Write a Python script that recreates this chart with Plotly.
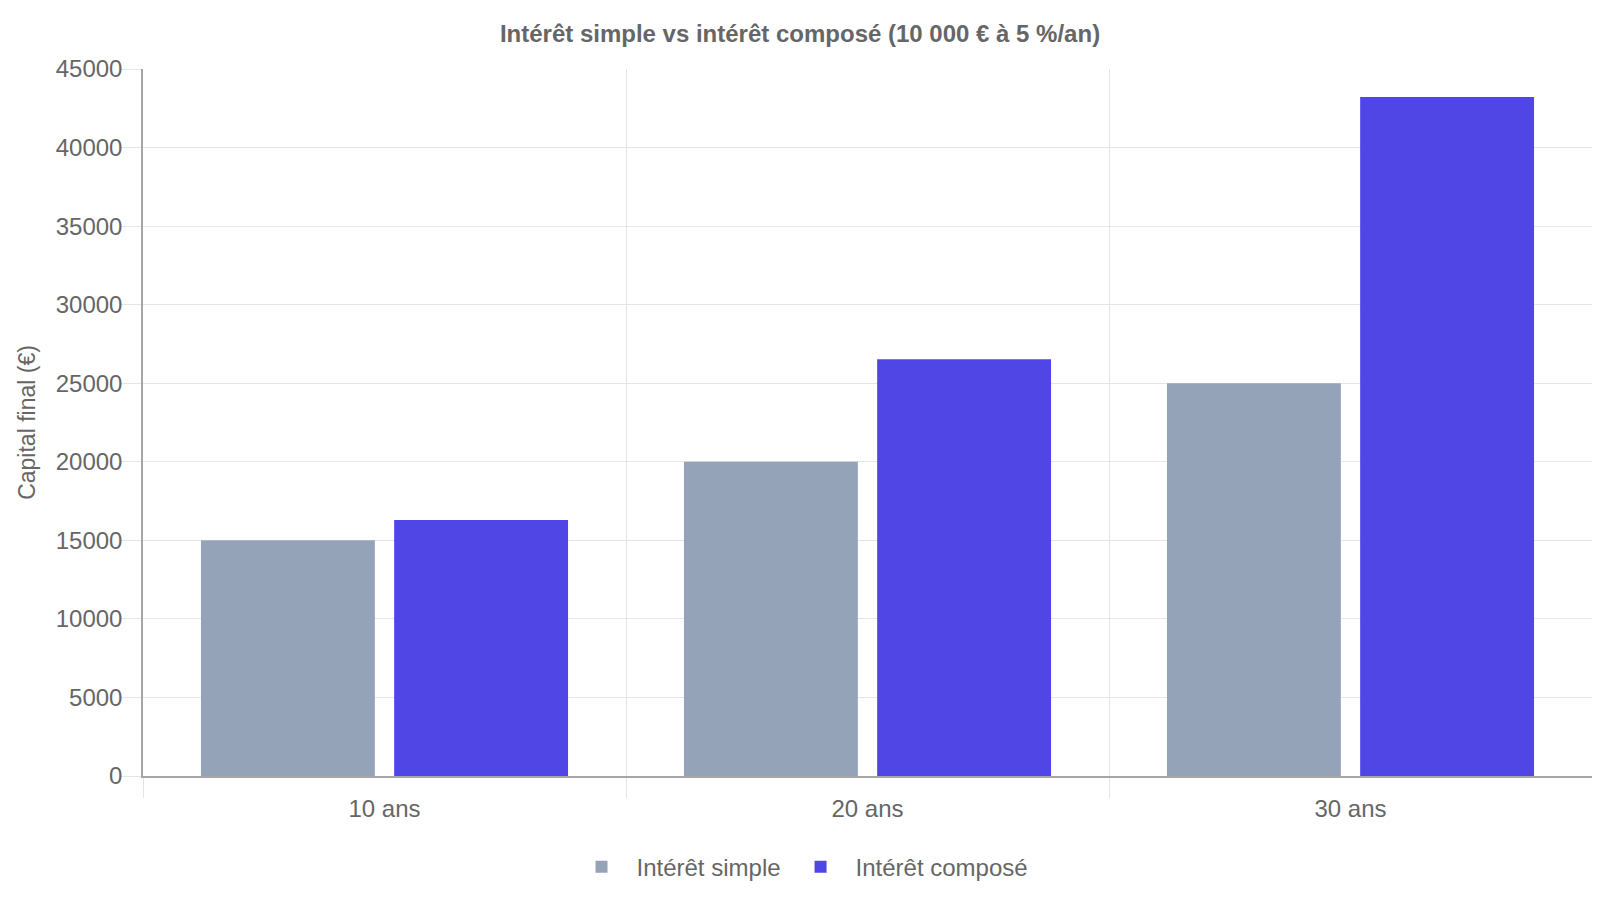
import plotly.graph_objects as go

# Capital final after 10, 20, 30 years (10 000 EUR at 5 %/an)
periods = ["10 ans", "20 ans", "30 ans"]
simple_values = [15000, 20000, 25000]
compound_values = [16289, 26533, 43219]
y_ticks = [0, 5000, 10000, 15000, 20000, 25000, 30000, 35000, 40000, 45000]

FONT = "Liberation Sans, Arial, sans-serif"
TEXT = "#666666"
GRID = "#e5e5e5"
AXIS = "#a6a6a6"

# page body keeps its 8px margin, so the figure is 16px smaller than the window
W, H = 1584, 884

fig = go.Figure()
fig.add_trace(go.Bar(x=periods, y=simple_values, name="Intérêt simple",
                     marker=dict(color="#94a3b8", line=dict(width=0))))
fig.add_trace(go.Bar(x=periods, y=compound_values, name="Intérêt composé",
                     marker=dict(color="#4f46e5", line=dict(width=0))))

fig.update_layout(
  width=W, height=H,
  paper_bgcolor="white", plot_bgcolor="white",
  margin=dict(l=135, r=0, t=61, b=116, autoexpand=False),
  barmode="group", bargap=0.2, bargroupgap=0.1,
  font=dict(family=FONT, size=24, color=TEXT),
  title=dict(text="<b>Intérêt simple vs intérêt composé (10 000 € à 5 %/an)</b>",
             font=dict(family=FONT, size=24, color=TEXT),
             x=792 / W, xref="container", y=1 - 26 / H, yref="container",
             xanchor="center", yanchor="middle"),
  # legend centred on the page, below the axis labels
  legend=dict(orientation="h", x=(792 - 135) / (W - 135), xanchor="center",
              y=-0.129, yanchor="middle", font=dict(size=24, color=TEXT),
              itemwidth=60),
  showlegend=True,
)

fig.update_xaxes(
  type="category", tickson="boundaries", automargin=False,
  showgrid=True, gridcolor=GRID, gridwidth=1,
  showline=True, linecolor=AXIS, linewidth=1.5,
  ticks="outside", ticklen=20, tickcolor=GRID, ticklabelstandoff=10,
  tickfont=dict(size=24, color=TEXT),
)
fig.update_yaxes(
  range=[0, 45000], tickvals=y_ticks, ticktext=[str(v) for v in y_ticks],
  automargin=False,
  showgrid=True, gridcolor=GRID, gridwidth=1, zeroline=False,
  showline=True, linecolor=AXIS, linewidth=1.5,
  ticks="outside", ticklen=20, tickcolor=GRID, ticklabelstandoff=-6,
  tickfont=dict(size=24, color=TEXT),
  title=dict(text="Capital final (€)", font=dict(size=23, color=TEXT), standoff=14),
)

fig.write_html("out.html")
